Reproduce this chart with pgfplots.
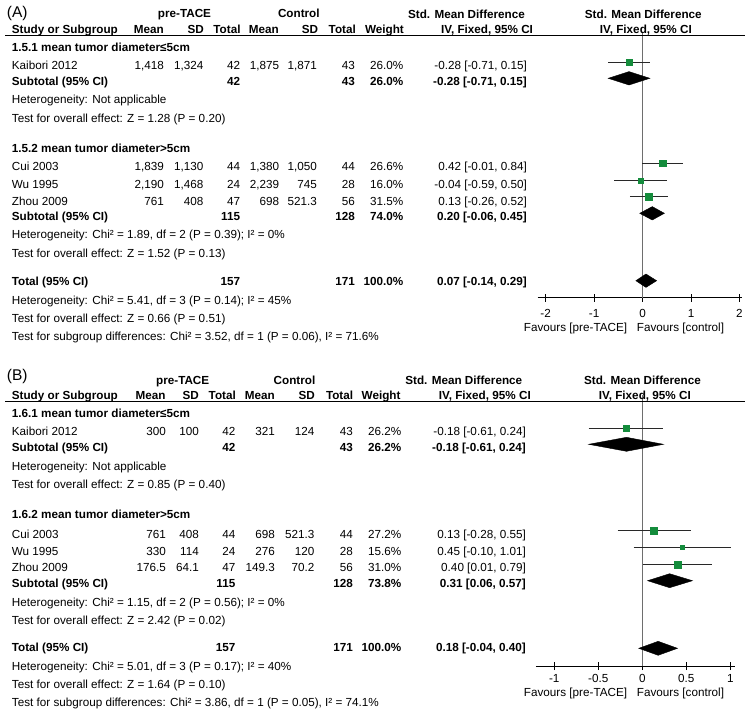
\documentclass[border=0pt]{standalone}
\usepackage{fontspec}
\setmainfont{Liberation Sans}
\usepackage{pgfplots}
\pgfplotsset{compat=1.18}
\definecolor{sq}{RGB}{20,140,60}
\definecolor{vl}{RGB}{110,110,110}
\definecolor{ci}{RGB}{40,40,40}
\newcommand\fs{\fontsize{11.7bp}{13bp}\selectfont}
\newcommand\T[4]{\node[anchor=#3,inner sep=0pt,font=\fs] at (#1bp,-#2bp) {#4};}
\newcommand\B[4]{\node[anchor=#3,inner sep=0pt,font=\fs\bfseries] at (#1bp,-#2bp) {#4};}
% data row: y, name, mean1, sd1, n1, mean2, sd2, n2, weight
\newcommand\Row[9]{%
  \T{11.7}{#1}{base west}{#2}
  \T{\cMa}{#1}{base east}{#3}
  \T{\cSa}{#1}{base east}{#4}
  \T{\cNa}{#1}{base east}{#5}
  \T{\cMb}{#1}{base east}{#6}
  \T{\cSb}{#1}{base east}{#7}
  \T{\cNb}{#1}{base east}{#8}
  \T{\cW}{#1}{base east}{#9}}
\newcommand\Sub[6]{% y, label, n1, n2, weight, ci
  \B{11.7}{#1}{base west}{#2}
  \B{\cNa}{#1}{base east}{#3}
  \B{\cNb}{#1}{base east}{#4}
  \B{\cW}{#1}{base east}{#5}
  \B{\cCI}{#1}{base east}{#6}}
\pgfplotsset{forest/.style={
  scale only axis, enlargelimits=false, clip=false,
  axis x line=bottom, axis y line=none,
  axis line style={-,black,line width=0.9bp},
  xtick style={black,line width=0.9bp},
  major tick length=8bp, tick align=center,
  ticklabel style={font=\fs},
  /pgf/number format/assume math mode=true,
}}
\begin{document}
\begin{tikzpicture}
\useasboundingbox (0,0) rectangle (748bp,-712bp);
% ================= PANEL A =================
\begin{axis}[forest, at={(537.7bp,-297.7bp)}, anchor=south west,
  width=204.2bp, height=264.7bp, xmin=-2.165, xmax=2.05, ymin=-297.7, ymax=-33,
  xtick={-2,-1,0,1,2}, xticklabels={-2,-1,0,1,2},
  xticklabel style={anchor=base,yshift=-16bp}]
\addplot[vl, line width=1.3bp] coordinates {(0,-33) (0,-297.7)};
% Kaibori 2012
\addplot[ci, line width=0.8bp] coordinates {(-0.71,-62) (0.15,-62)};
\addplot[only marks, mark=square*, mark size=3bp, sq] coordinates {(-0.28,-62)};
\addplot[fill=black, draw=black] coordinates {(-0.71,-78.3) (-0.28,-71.6) (0.15,-78.3) (-0.28,-85)} -- cycle;
% Cui 2003
\addplot[ci, line width=0.8bp] coordinates {(-0.01,-163.3) (0.84,-163.3)};
\addplot[only marks, mark=square*, mark size=3.3bp, sq] coordinates {(0.42,-163.3)};
% Wu 1995
\addplot[ci, line width=0.8bp] coordinates {(-0.59,-180.7) (0.50,-180.7)};
\addplot[only marks, mark=square*, mark size=2.3bp, sq] coordinates {(-0.04,-180.7)};
% Zhou 2009
\addplot[ci, line width=0.8bp] coordinates {(-0.26,-196.7) (0.52,-196.7)};
\addplot[only marks, mark=square*, mark size=3.6bp, sq] coordinates {(0.13,-196.7)};
% Subtotal
\addplot[fill=black, draw=black] coordinates {(-0.06,-213.3) (0.20,-206.6) (0.45,-213.3) (0.20,-220)} -- cycle;
% Total
\addplot[fill=black, draw=black] coordinates {(-0.14,-280.7) (0.07,-274) (0.29,-280.7) (0.07,-287.4)} -- cycle;
\end{axis}
\draw[line width=0.9bp] (5bp,-35.5bp) -- (745bp,-35.5bp);
\node[anchor=base west,inner sep=0pt,font=\fontsize{15.5bp}{17bp}\selectfont] at (6.7bp,-17.5bp) {(A)};
\B{184.5}{17.7}{base}{pre-TACE}
\B{298.8}{17.7}{base}{Control}
\B{466.5}{18.3}{base}{Std. Mean Difference}
\B{643.3}{18.3}{base}{Std. Mean Difference}
\B{11.7}{33.5}{base west}{Study or Subgroup}
\B{164}{33.5}{base east}{Mean}
\B{204}{33.5}{base east}{SD}
\B{240.7}{33.5}{base east}{Total}
\B{279}{33.5}{base east}{Mean}
\B{318.3}{33.5}{base east}{SD}
\B{356}{33.5}{base east}{Total}
\B{404}{33.5}{base east}{Weight}
\B{487}{33.5}{base}{IV, Fixed, 95\% CI}
\B{645.8}{33.5}{base}{IV, Fixed, 95\% CI}
\def\cMa{164}\def\cSa{203.5}\def\cNa{240.3}\def\cMb{279.3}\def\cSb{317}\def\cNb{355}\def\cW{403.5}\def\cCI{527}
\B{11.7}{51}{base west}{1.5.1 mean tumor diameter≤5cm}
\Row{69.3}{Kaibori 2012}{1,418}{1,324}{42}{1,875}{1,871}{43}{26.0\%}
\T{\cCI}{69.3}{base east}{-0.28 [-0.71, 0.15]}
\Sub{85.3}{Subtotal (95\% CI)}{42}{43}{26.0\%}{-0.28 [-0.71, 0.15]}
\T{11.7}{103.3}{base west}{Heterogeneity: Not applicable}
\T{11.7}{122}{base west}{Test for overall effect: Z = 1.28 (P = 0.20)}
\B{11.7}{152.7}{base west}{1.5.2 mean tumor diameter>5cm}
\Row{170}{Cui 2003}{1,839}{1,130}{44}{1,380}{1,050}{44}{26.6\%}
\T{\cCI}{170}{base east}{0.42 [-0.01, 0.84]}
\Row{188.3}{Wu 1995}{2,190}{1,468}{24}{2,239}{745}{28}{16.0\%}
\T{\cCI}{188.3}{base east}{-0.04 [-0.59, 0.50]}
\Row{205}{Zhou 2009}{761}{408}{47}{698}{521.3}{56}{31.5\%}
\T{\cCI}{205}{base east}{0.13 [-0.26, 0.52]}
\Sub{220.7}{Subtotal (95\% CI)}{115}{128}{74.0\%}{0.20 [-0.06, 0.45]}
\T{11.7}{238.3}{base west}{Heterogeneity: Chi² = 1.89, df = 2 (P = 0.39); I² = 0\%}
\T{11.7}{257.3}{base west}{Test for overall effect: Z = 1.52 (P = 0.13)}
\Sub{285}{Total (95\% CI)}{157}{171}{100.0\%}{0.07 [-0.14, 0.29]}
\T{11.7}{304}{base west}{Heterogeneity: Chi² = 5.41, df = 3 (P = 0.14); I² = 45\%}
\T{11.7}{322.3}{base west}{Test for overall effect: Z = 0.66 (P = 0.51)}
\T{11.7}{340}{base west}{Test for subgroup differences: Chi² = 3.52, df = 1 (P = 0.06), I² = 71.6\%}
\T{627.3}{331}{base east}{Favours [pre-TACE]}
\T{636.7}{331}{base west}{Favours [control]}
% ================= PANEL B =================
\begin{axis}[forest, at={(535.8bp,-666bp)}, anchor=south west,
  width=199.2bp, height=271bp, xmin=-1.21, xmax=1.053, ymin=-666, ymax=-395,
  xtick={-1,-0.5,0,0.5,1}, xticklabels={-1,-0.5,0,0.5,1},
  xticklabel style={anchor=base,yshift=-12bp}]
\addplot[vl, line width=1.3bp] coordinates {(0,-395) (0,-666)};
% Kaibori 2012
\addplot[ci, line width=0.8bp] coordinates {(-0.61,-428.3) (0.24,-428.3)};
\addplot[only marks, mark=square*, mark size=3bp, sq] coordinates {(-0.18,-428.3)};
\addplot[fill=black, draw=black] coordinates {(-0.61,-444.3) (-0.18,-437.3) (0.24,-444.3) (-0.18,-451.3)} -- cycle;
% Cui 2003
\addplot[ci, line width=0.8bp] coordinates {(-0.28,-530.7) (0.55,-530.7)};
\addplot[only marks, mark=square*, mark size=3.1bp, sq] coordinates {(0.13,-530.7)};
% Wu 1995
\addplot[ci, line width=0.8bp] coordinates {(-0.10,-547.3) (1.01,-547.3)};
\addplot[only marks, mark=square*, mark size=2.2bp, sq] coordinates {(0.45,-547.3)};
% Zhou 2009
\addplot[ci, line width=0.8bp] coordinates {(0.01,-564.3) (0.79,-564.3)};
\addplot[only marks, mark=square*, mark size=3.5bp, sq] coordinates {(0.40,-564.3)};
% Subtotal
\addplot[fill=black, draw=black] coordinates {(0.06,-580.7) (0.31,-573.7) (0.57,-580.7) (0.31,-587.7)} -- cycle;
% Total
\addplot[fill=black, draw=black] coordinates {(-0.04,-648.3) (0.18,-641.3) (0.40,-648.3) (0.18,-655.3)} -- cycle;
\end{axis}
\draw[line width=0.9bp] (5bp,-401.5bp) -- (745bp,-401.5bp);
\node[anchor=base west,inner sep=0pt,font=\fontsize{15.5bp}{17bp}\selectfont] at (6.7bp,-380bp) {(B)};
\B{182.7}{384}{base}{pre-TACE}
\B{294.5}{384}{base}{Control}
\B{463.8}{384}{base}{Std. Mean Difference}
\B{642.5}{384}{base}{Std. Mean Difference}
\B{11.7}{399.5}{base west}{Study or Subgroup}
\B{165.7}{399.5}{base east}{Mean}
\B{199}{399.5}{base east}{SD}
\B{236}{399.5}{base east}{Total}
\B{275}{399.5}{base east}{Mean}
\B{315}{399.5}{base east}{SD}
\B{353.3}{399.5}{base east}{Total}
\B{400.7}{399.5}{base east}{Weight}
\B{484.8}{399.5}{base}{IV, Fixed, 95\% CI}
\B{644.8}{399.5}{base}{IV, Fixed, 95\% CI}
\def\cMa{166}\def\cSa{199}\def\cNa{235.5}\def\cMb{275}\def\cSb{314.5}\def\cNb{353}\def\cW{401.5}\def\cCI{526}
\B{11.7}{417.3}{base west}{1.6.1 mean tumor diameter≤5cm}
\Row{435}{Kaibori 2012}{300}{100}{42}{321}{124}{43}{26.2\%}
\T{\cCI}{435}{base east}{-0.18 [-0.61, 0.24]}
\Sub{451.7}{Subtotal (95\% CI)}{42}{43}{26.2\%}{-0.18 [-0.61, 0.24]}
\T{11.7}{470.7}{base west}{Heterogeneity: Not applicable}
\T{11.7}{488}{base west}{Test for overall effect: Z = 0.85 (P = 0.40)}
\B{11.7}{518.5}{base west}{1.6.2 mean tumor diameter>5cm}
\Row{538.3}{Cui 2003}{761}{408}{44}{698}{521.3}{44}{27.2\%}
\T{\cCI}{538.3}{base east}{0.13 [-0.28, 0.55]}
\Row{555}{Wu 1995}{330}{114}{24}{276}{120}{28}{15.6\%}
\T{\cCI}{555}{base east}{0.45 [-0.10, 1.01]}
\Row{571.7}{Zhou 2009}{176.5}{64.1}{47}{149.3}{70.2}{56}{31.0\%}
\T{\cCI}{571.7}{base east}{0.40 [0.01, 0.79]}
\Sub{587.3}{Subtotal (95\% CI)}{115}{128}{73.8\%}{0.31 [0.06, 0.57]}
\T{11.7}{606}{base west}{Heterogeneity: Chi² = 1.15, df = 2 (P = 0.56); I² = 0\%}
\T{11.7}{624}{base west}{Test for overall effect: Z = 2.42 (P = 0.02)}
\Sub{651.7}{Total (95\% CI)}{157}{171}{100.0\%}{0.18 [-0.04, 0.40]}
\T{11.7}{670}{base west}{Heterogeneity: Chi² = 5.01, df = 3 (P = 0.17); I² = 40\%}
\T{11.7}{688}{base west}{Test for overall effect: Z = 1.64 (P = 0.10)}
\T{11.7}{706}{base west}{Test for subgroup differences: Chi² = 3.86, df = 1 (P = 0.05), I² = 74.1\%}
\T{627.3}{696.7}{base east}{Favours [pre-TACE]}
\T{636.7}{696.7}{base west}{Favours [control]}
\end{tikzpicture}
\end{document}
